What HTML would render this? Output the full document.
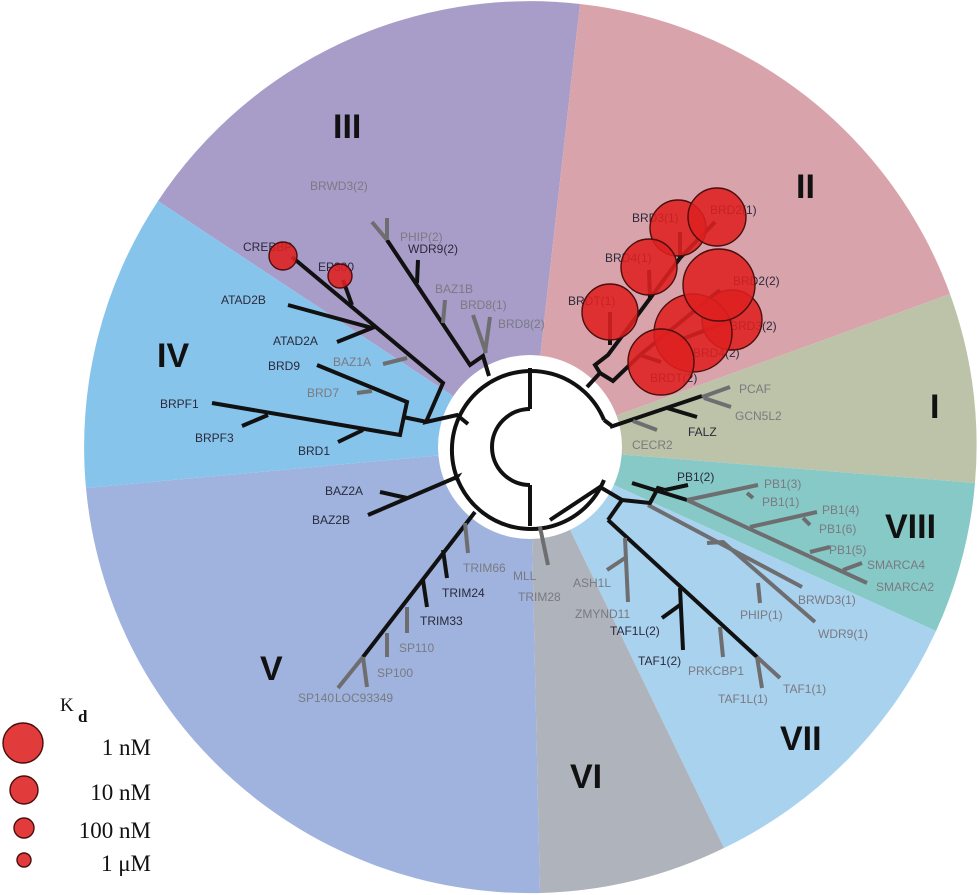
<!DOCTYPE html>
<html><head><meta charset="utf-8"><style>
html,body{margin:0;padding:0;background:#fff;width:979px;height:895px;overflow:hidden;}
svg{display:block;}
text{font-family:"Liberation Sans",Arial,sans-serif;font-size:12px;}
.b{fill:#2a2a3a;}
.g{fill:#7a7a80;}
.r{font-family:"Liberation Sans",Arial,sans-serif;font-weight:bold;font-size:34px;fill:#111;}
.lg{font-family:"Liberation Serif",serif;font-size:23px;fill:#111;}
.k{stroke:#111;stroke-width:4;fill:none;stroke-linecap:butt;stroke-linejoin:miter;}
.gr{stroke:#6e6e70;stroke-width:4;fill:none;}
.c{fill:rgba(222,32,32,0.88);stroke:#4a0e0e;stroke-width:1.4;}
</style></head><body>
<svg width="979" height="895" viewBox="0 0 979 895" xmlns="http://www.w3.org/2000/svg">
<path d="M530,447 L158,201 A446,446 0 0 1 580,4 Z" fill="#a89dc9"/>
<path d="M530,447 L580,4 A446,446 0 0 1 950,294 Z" fill="#d9a3ab"/>
<path d="M530,447 L950,294 A446,446 0 0 1 975,483 Z" fill="#bdc3a8"/>
<path d="M530,447 L975,483 A446,446 0 0 1 936,631 Z" fill="#87c9c7"/>
<path d="M530,447 L936,631 A446,446 0 0 1 724,848 Z" fill="#a9d2ef"/>
<path d="M530,447 L724,848 A446,446 0 0 1 540,893 Z" fill="#aeb3bc"/>
<path d="M530,447 L540,893 A446,446 0 0 1 86,488 Z" fill="#9fb3de"/>
<path d="M530,447 L86,488 A446,446 0 0 1 158,201 Z" fill="#87c4ec"/>
<circle cx="530" cy="447" r="92" fill="#fff"/>

<path class="k" d="M604,420 A79,79 0 1 0 604,480"/>
<path class="k" d="M530,409 A38,38 0 1 0 530,485"/>
<line class="k" x1="530" y1="368" x2="530" y2="409"/>
<line class="k" x1="530" y1="485" x2="530" y2="526"/>
<line class="k" x1="604" y1="420" x2="612" y2="426"/>

<line class="k" x1="610" y1="427" x2="702" y2="396"/>
<line class="gr" x1="702" y1="397" x2="730" y2="387"/>
<line class="gr" x1="704" y1="398" x2="731" y2="407"/>
<line class="k" x1="667" y1="408" x2="697" y2="417"/>
<line class="gr" x1="633" y1="421" x2="657" y2="430"/>

<polyline class="k" points="587,387 600,373 595,365 608,355 680,258"/>
<polyline class="k" points="600,373 613,381 640,355"/>
<line class="k" x1="650" y1="300" x2="649" y2="270"/>
<line class="k" x1="680" y1="258" x2="680" y2="232"/>
<line class="k" x1="680" y1="258" x2="715" y2="222"/>
<line class="k" x1="610" y1="345" x2="610" y2="312"/>
<line class="k" x1="640" y1="355" x2="720" y2="290"/>
<line class="k" x1="680" y1="340" x2="732" y2="320"/>
<line class="k" x1="640" y1="355" x2="661" y2="362"/>

<polyline class="k" points="292,257 443,383 426,422 457,415 468,424"/>
<line class="k" x1="343" y1="280" x2="352" y2="305"/>
<polyline class="k" points="288,305 372,328 337,342"/>
<line class="gr" x1="383" y1="364" x2="407" y2="358"/>
<polyline class="k" points="317,365 407,402 400,435 212,403"/>
<line class="k" x1="403" y1="417" x2="427" y2="422"/>
<line class="gr" x1="357" y1="393" x2="372" y2="391"/>
<line class="k" x1="242" y1="426" x2="268" y2="415"/>
<line class="k" x1="338" y1="442" x2="363" y2="430"/>
<polyline class="k" points="387,240 470,365 483,356 489,376"/>
<line class="k" x1="418" y1="260" x2="417" y2="283"/>
<line class="gr" x1="445" y1="300" x2="443" y2="323"/>
<line class="gr" x1="473" y1="315" x2="486" y2="353"/>
<line class="gr" x1="490" y1="317" x2="485" y2="353"/>
<line class="gr" x1="387" y1="240" x2="387" y2="218"/>
<line class="gr" x1="387" y1="240" x2="372" y2="222"/>

<polyline class="k" points="368,515 457,477 455,480"/>
<line class="k" x1="380" y1="492" x2="407" y2="498"/>
<line class="k" x1="475" y1="512" x2="363" y2="657"/>
<line class="gr" x1="465" y1="523" x2="468" y2="553"/>
<line class="k" x1="443" y1="550" x2="447" y2="578"/>
<line class="k" x1="423" y1="580" x2="427" y2="607"/>
<line class="gr" x1="407" y1="607" x2="407" y2="633"/>
<line class="gr" x1="387" y1="633" x2="387" y2="657"/>
<line class="gr" x1="363" y1="657" x2="338" y2="688"/>
<line class="gr" x1="363" y1="657" x2="367" y2="687"/>

<line class="gr" x1="540" y1="527" x2="548" y2="565"/>
<polyline class="k" points="550,520 600,487 622,500 608,520"/>

<line class="k" x1="608" y1="520" x2="757" y2="657"/>
<line class="gr" x1="757" y1="657" x2="762" y2="688"/>
<line class="gr" x1="757" y1="657" x2="780" y2="678"/>
<line class="k" x1="680" y1="588" x2="683" y2="650"/>
<line class="k" x1="662" y1="618" x2="680" y2="605"/>
<line class="gr" x1="720" y1="627" x2="723" y2="657"/>
<line class="gr" x1="625" y1="538" x2="628" y2="602"/>
<line class="gr" x1="607" y1="570" x2="625" y2="558"/>
<line class="gr" x1="648" y1="505" x2="802" y2="587"/>
<polyline class="gr" points="707,543 723,542 815,622"/>
<line class="gr" x1="758" y1="583" x2="760" y2="603"/>
<polyline class="k" points="622,500 650,503 658,488 665,490"/>
<line class="k" x1="632" y1="483" x2="687" y2="500"/>
<line class="k" x1="665" y1="490" x2="688" y2="485"/>

<line class="gr" x1="687" y1="500" x2="867" y2="583"/>
<line class="gr" x1="687" y1="500" x2="758" y2="485"/>
<line class="gr" x1="747" y1="493" x2="753" y2="498"/>
<line class="gr" x1="750" y1="527" x2="817" y2="512"/>
<line class="gr" x1="803" y1="518" x2="810" y2="525"/>
<line class="gr" x1="810" y1="552" x2="830" y2="547"/>
<line class="gr" x1="843" y1="570" x2="862" y2="563"/>

<text x="310" y="190" class="g">BRWD3(2)</text>
<text x="400" y="241" class="g">PHIP(2)</text>
<text x="408" y="253" class="b">WDR9(2)</text>
<text x="435" y="293" class="g">BAZ1B</text>
<text x="460" y="309" class="g">BRD8(1)</text>
<text x="498" y="328" class="g">BRD8(2)</text>
<text x="243" y="251" class="b">CREBBP</text>
<text x="318" y="271" class="b">EP300</text>
<text x="221" y="304" class="b">ATAD2B</text>
<text x="273" y="345" class="b">ATAD2A</text>
<text x="333" y="366" class="g">BAZ1A</text>
<text x="268" y="370" class="b">BRD9</text>
<text x="307" y="397" class="g">BRD7</text>
<text x="160" y="408" class="b">BRPF1</text>
<text x="195" y="442" class="b">BRPF3</text>
<text x="298" y="455" class="b">BRD1</text>
<text x="325" y="495" class="b">BAZ2A</text>
<text x="312" y="524" class="b">BAZ2B</text>
<text x="463" y="572" class="g">TRIM66</text>
<text x="442" y="597" class="b">TRIM24</text>
<text x="420" y="625" class="b">TRIM33</text>
<text x="399" y="652" class="g">SP110</text>
<text x="377" y="677" class="g">SP100</text>
<text x="298" y="702" class="g">SP140</text>
<text x="335" y="702" class="g">LOC93349</text>
<text x="513" y="580" class="g">MLL</text>
<text x="518" y="601" class="g">TRIM28</text>
<text x="573" y="587" class="g">ASH1L</text>
<text x="575" y="618" class="g">ZMYND11</text>
<text x="610" y="635" class="b">TAF1L(2)</text>
<text x="638" y="665" class="b">TAF1(2)</text>
<text x="688" y="675" class="g">PRKCBP1</text>
<text x="718" y="703" class="g">TAF1L(1)</text>
<text x="783" y="693" class="g">TAF1(1)</text>
<text x="740" y="619" class="g">PHIP(1)</text>
<text x="818" y="638" class="g">WDR9(1)</text>
<text x="798" y="604" class="g">BRWD3(1)</text>
<text x="876" y="591" class="g">SMARCA2</text>
<text x="867" y="569" class="g">SMARCA4</text>
<text x="829" y="554" class="g">PB1(5)</text>
<text x="819" y="533" class="g">PB1(6)</text>
<text x="822" y="514" class="g">PB1(4)</text>
<text x="762" y="506" class="g">PB1(1)</text>
<text x="764" y="488" class="g">PB1(3)</text>
<text x="677" y="481" class="b">PB1(2)</text>
<text x="739" y="393" class="g">PCAF</text>
<text x="735" y="420" class="g">GCN5L2</text>
<text x="688" y="436" class="b">FALZ</text>
<text x="632" y="449" class="g">CECR2</text>
<text x="632" y="222" class="b">BRD3(1)</text>
<text x="710" y="214" class="b">BRD2(1)</text>
<text x="605" y="262" class="b">BRD4(1)</text>
<text x="733" y="285" class="b">BRD2(2)</text>
<text x="730" y="330" class="b">BRD3(2)</text>
<text x="693" y="357" class="b">BRD4(2)</text>
<text x="568" y="305" class="b">BRDT(1)</text>
<text x="650" y="382" class="b">BRDT(2)</text>

<circle class="c" cx="678" cy="228" r="28"/>
<circle class="c" cx="717" cy="217" r="29"/>
<circle class="c" cx="649" cy="267" r="28"/>
<circle class="c" cx="610" cy="312" r="28"/>
<circle class="c" cx="732" cy="320" r="30"/>
<circle class="c" cx="693" cy="333" r="39"/>
<circle class="c" cx="719" cy="285" r="36"/>
<circle class="c" cx="661" cy="362" r="33"/>
<circle class="c" cx="283" cy="256" r="14"/>
<circle class="c" cx="340" cy="276" r="12"/>

<text x="333" y="138" class="r">III</text>
<text x="796" y="198" class="r">II</text>
<text x="930" y="418" class="r">I</text>
<text x="157" y="367" class="r">IV</text>
<text x="260" y="680" class="r">V</text>
<text x="570" y="788" class="r">VI</text>
<text x="780" y="750" class="r">VII</text>
<text x="885" y="538" class="r">VIII</text>

<text x="60" y="711" class="lg" style="font-size:19px">K</text>
<text x="78" y="722" class="lg" style="font-size:17px;font-weight:bold">d</text>
<circle class="c" cx="23" cy="743" r="20"/>
<circle class="c" cx="24" cy="790" r="14"/>
<circle class="c" cx="24" cy="828" r="10"/>
<circle class="c" cx="24" cy="860" r="7"/>
<text x="151" y="755" class="lg" text-anchor="end">1 nM</text>
<text x="151" y="800" class="lg" text-anchor="end">10 nM</text>
<text x="151" y="838" class="lg" text-anchor="end">100 nM</text>
<text x="151" y="871" class="lg" text-anchor="end">1 μM</text>
</svg>
</body></html>
